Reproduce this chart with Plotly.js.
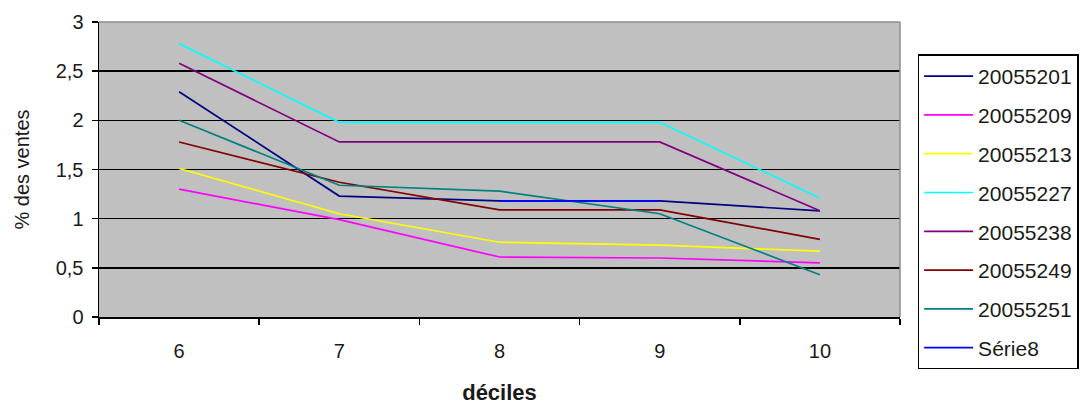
<!DOCTYPE html>
<html>
<head>
<meta charset="utf-8">
<script src="https://cdn.plot.ly/plotly-3.0.1.min.js"></script>
<style>html,body{margin:0;padding:0;background:#fff;}#chart{width:1080px;height:405px;}</style>
</head>
<body>
<div id="chart"></div>
<script>
var deciles = ['6', '7', '8', '9', '10'];
var seriesNames = ['20055201', '20055209', '20055213', '20055227', '20055238', '20055249', '20055251', 'Série8'];
var s20055201 = [2.29, 1.23, 1.18, 1.18, 1.08];
var s20055209 = [1.30, 0.99, 0.61, 0.60, 0.55];
var s20055213 = [1.51, 1.05, 0.76, 0.73, 0.67];
var s20055227 = [2.78, 1.98, 1.98, 1.98, 1.21];
var s20055238 = [2.58, 1.78, 1.78, 1.78, 1.08];
var s20055249 = [1.78, 1.37, 1.09, 1.09, 0.79];
var s20055251 = [2.00, 1.34, 1.28, 1.05, 0.43];
var sSerie8 = [null, null, 1.18, 1.18, null];
var yTickVals = [0, 0.5, 1, 1.5, 2, 2.5, 3];
var yTickText = ['0', '0,5', '1', '1,5', '2', '2,5', '3'];

var allValues = [s20055201, s20055209, s20055213, s20055227, s20055238, s20055249, s20055251, sSerie8];
var colors = ['#000080', '#FF00FF', '#FFFF00', '#00FFFF', '#800080', '#800000', '#008080', '#0000FF'];

var traces = allValues.map(function (vals, i) {
  return {
    type: 'scatter',
    mode: 'lines',
    x: deciles,
    y: vals,
    name: seriesNames[i],
    legendgroup: 'g' + i,
    line: {color: colors[i], width: 1.7},
    connectgaps: false
  };
});

var font = 'Liberation Sans, Arial, sans-serif';
var layout = {
  width: 1080,
  height: 405,
  margin: {l: 99, r: 180, t: 22, b: 88, autoexpand: false},
  paper_bgcolor: '#ffffff',
  plot_bgcolor: '#C0C0C0',
  font: {family: font, size: 19, color: '#000'},
  showlegend: true,
  legend: {
    x: 1.022, xanchor: 'left', y: 0.89, yanchor: 'top',
    bgcolor: '#ffffff', bordercolor: '#000', borderwidth: 1.5,
    font: {family: font, size: 21, color: '#1a1a1a'},
    itemwidth: 49,
    maxheight: 400,
    traceorder: 'grouped', tracegroupgap: 8.5
  },
  xaxis: {
    type: 'category',
    range: [-0.5, 4.5],
    tickson: 'boundaries',
    ticks: 'outside', ticklen: 6, tickcolor: '#000', tickwidth: 1.5,
    ticklabelstandoff: 15,
    showline: true, linecolor: '#000', linewidth: 1.5,
    showgrid: false, zeroline: false,
    tickfont: {family: font, size: 20, color: '#1a1a1a'},
    title: {text: 'déciles', font: {family: font, size: 22, weight: 'bold', color: '#1a1a1a'}, standoff: 24}
  },
  yaxis: {
    range: [0, 3],
    tickvals: yTickVals, ticktext: yTickText,
    ticks: 'outside', ticklen: 6, tickcolor: '#000', tickwidth: 1.5,
    ticklabelstandoff: 4,
    showline: true, linecolor: '#000', linewidth: 1.5,
    showgrid: true, gridcolor: '#000', gridwidth: 1.5,
    zeroline: false,
    tickfont: {family: font, size: 20, color: '#1a1a1a'},
    title: {text: '% des ventes', font: {family: font, size: 20, color: '#1a1a1a'}, standoff: 20}
  },
  shapes: [
    {type: 'line', xref: 'paper', yref: 'paper', x0: 0, x1: 1, y0: 1, y1: 1, line: {color: '#8c8c8c', width: 1.5}, layer: 'above'},
    {type: 'line', xref: 'paper', yref: 'paper', x0: 1, x1: 1, y0: 0, y1: 1, line: {color: '#8c8c8c', width: 1.5}, layer: 'above'}
  ]
};

Plotly.newPlot('chart', traces, layout, {displayModeBar: false, staticPlot: true});
</script>
</body>
</html>
